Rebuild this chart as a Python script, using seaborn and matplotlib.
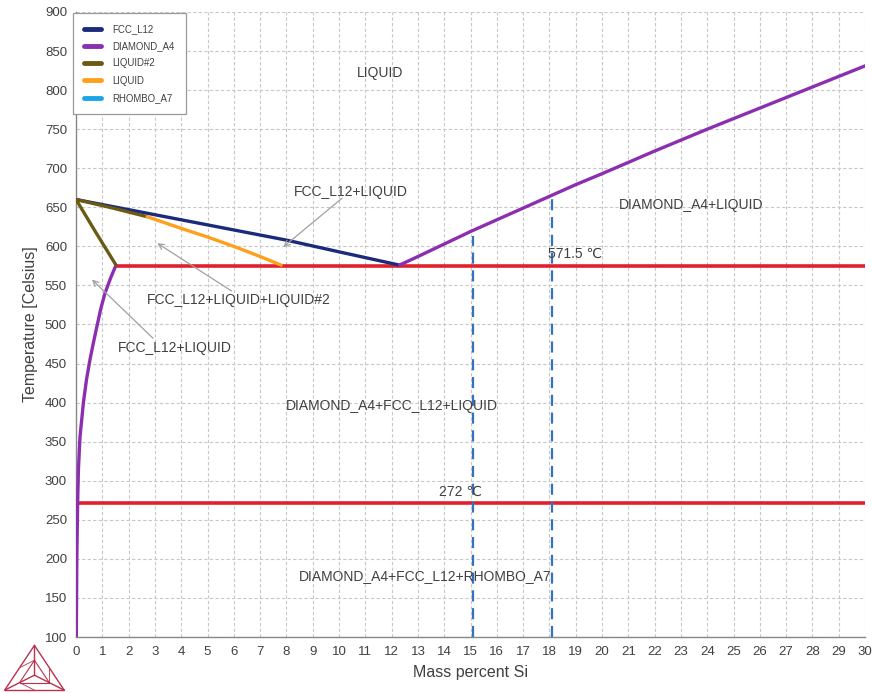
import numpy as np
import pandas as pd
import matplotlib
matplotlib.use("Agg")
import matplotlib.pyplot as plt
import seaborn as sns
from matplotlib.lines import Line2D

# ---- data ----
fcc_x = [0.0, 2.0, 4.0, 6.0, 8.0, 10.0, 12.3]
fcc_t = [660, 647, 634, 621, 608, 593, 576]

diamond_liq_x = [12.3, 13.0, 14.0, 15.0, 16.0, 17.0, 18.0, 19.0, 20.0, 22.0, 24.0, 26.0, 28.0, 30.0]
diamond_liq_t = [576, 587, 603, 619, 634, 649, 664, 679, 693, 722, 750, 777, 804, 831]

diamond_solvus_x = [1.52, 1.32, 1.10, 0.94, 0.79, 0.65, 0.53, 0.40, 0.28, 0.15, 0.09, 0.06, 0.03, 0.01]
diamond_solvus_t = [576, 560, 540, 520, 497, 475, 455, 430, 400, 356, 314, 270, 200, 100]

liquid2_x = [2.7, 1.4, 0.0, 0.75, 1.52]
liquid2_t = [638, 649, 660, 618, 576]

liquid_x = [2.7, 4.0, 5.0, 6.0, 7.0, 7.8]
liquid_t = [638, 623, 612, 600, 587, 576]

eutectic_t = 575
eutectic_x = [1.52, 30.0]
monotectic_t = 272
monotectic_x = [0.0, 30.0]

sections_x = [15.1, 18.1]
sections_top = [613, 664]

labels = [
    ("LIQUID", 11.56, 822),
    ("DIAMOND_A4+LIQUID", 23.4, 653),
    ("571.5 \u2103", 18.97, 590),
    ("272 \u2103", 14.6, 286),
    ("DIAMOND_A4+FCC_L12+LIQUID", 12.0, 396),
    ("DIAMOND_A4+FCC_L12+RHOMBO_A7", 13.27, 178),
]
arrow_labels = [
    ("FCC_L12+LIQUID", 10.46, 670, 7.8, 597, 10.2, 664),
    ("FCC_L12+LIQUID+LIQUID#2", 6.2, 531, 3.0, 606, 6.0, 541),
    ("FCC_L12+LIQUID", 3.76, 470, 0.53, 560, 3.0, 480),
]

colors = {
    "FCC_L12": "#1c2a7c",
    "DIAMOND_A4": "#8b2fb0",
    "LIQUID#2": "#6b5a12",
    "LIQUID": "#ffa01c",
    "RHOMBO_A7": "#1aa6e6",
}
red = "#e0202e"
dash_blue = "#3572bd"
text_col = "#404040"

sns.set_style("white")
plt.rcParams['font.family'] = ['Liberation Sans', 'DejaVu Sans']

fig = plt.figure(figsize=(8.72, 6.93), dpi=100)
ax = fig.add_axes([0.0872, 0.0808, 0.9048, 0.9019])

ax.set_xlim(0, 30)
ax.set_ylim(100, 900)
ax.set_xticks(range(0, 31))
ax.set_yticks(range(100, 901, 50))
ax.grid(True, color="#c8c8c8", linestyle=(0, (3, 2)), linewidth=0.8)
ax.set_axisbelow(True)

lw = 2.4
# red invariant lines
sns.lineplot(x=eutectic_x, y=[eutectic_t] * 2, ax=ax, color=red, lw=2.6, zorder=3,
             estimator=None, sort=False)
sns.lineplot(x=monotectic_x, y=[monotectic_t] * 2, ax=ax, color=red, lw=2.6, zorder=3,
             estimator=None, sort=False)

def curve(xs, ts, c, z=4):
    df = pd.DataFrame({"x": xs, "t": ts})
    sns.lineplot(data=df, x="x", y="t", ax=ax, color=c, lw=lw, sort=False,
                 estimator=None, zorder=z)

curve(fcc_x, fcc_t, colors["FCC_L12"])
curve(diamond_liq_x, diamond_liq_t, colors["DIAMOND_A4"])
curve(diamond_solvus_x, diamond_solvus_t, colors["DIAMOND_A4"])
curve(liquid2_x, liquid2_t, colors["LIQUID#2"], z=5)
curve(liquid_x, liquid_t, colors["LIQUID"], z=5)

for sx, st in zip(sections_x, sections_top):
    sns.lineplot(x=[sx, sx], y=[100, st], ax=ax, color=dash_blue, lw=1.6,
                 linestyle=(0, (5, 3)), zorder=6, estimator=None, sort=False)

for txt, x, y in labels:
    ax.text(x, y, txt, ha="center", va="center", fontsize=10, color=text_col, zorder=7)

for txt, x, y, ax_x, ax_y, tx, ty in arrow_labels:
    ax.text(x, y, txt, ha="center", va="center", fontsize=10, color=text_col, zorder=7)
    ax.annotate("", xy=(ax_x, ax_y), xytext=(tx, ty),
                arrowprops=dict(arrowstyle="->", color="#a0a0a0", lw=0.9), zorder=7)

ax.set_xlabel("Mass percent Si", fontsize=11.5, color=text_col, labelpad=5)
ax.set_ylabel("Temperature [Celsius]", fontsize=11.5, color=text_col, labelpad=5)
ax.tick_params(axis="both", labelsize=9.5, colors=text_col, length=3, direction="out")
ax.tick_params(axis="both", color="#888888")
for s in ["top", "right"]:
    ax.spines[s].set_visible(False)
for s in ["left", "bottom"]:
    ax.spines[s].set_color("#888888")
    ax.spines[s].set_linewidth(1.0)

handles = [Line2D([0], [0], color=c, lw=3.5, solid_capstyle="round") for c in colors.values()]
leg = ax.legend(handles, list(colors.keys()), loc="upper left", fontsize=6.9,
                frameon=True, fancybox=False, edgecolor="#999999", framealpha=1,
                borderpad=1.2, labelspacing=0.75, handlelength=1.7, handletextpad=1.2,
                bbox_to_anchor=(-0.004, 0.999), borderaxespad=0.0)
leg.get_frame().set_linewidth(0.9)
for t in leg.get_texts():
    t.set_color(text_col)

# Thermo-Calc style logo
lax = fig.add_axes([0.002, 0.0, 0.075, 0.075])
lax.set_xlim(-1.1, 1.1)
lax.set_ylim(-0.65, 1.15)
lax.axis("off")
lc = "#b8324e"
A = np.array([0.0, 1.0]); B = np.array([-1.0, -0.55]); C = np.array([1.0, -0.55])
G = (A + B + C) / 3
for P, Q in [(A, B), (B, C), (C, A), (A, G), (B, G), (C, G)]:
    lax.plot([P[0], Q[0]], [P[1], Q[1]], color=lc, lw=1.0)
inner = [G + (V - G) * 0.5 for V in (A, B, C)]
for i in range(3):
    P, Q = inner[i], inner[(i + 1) % 3]
    lax.plot([P[0], Q[0]], [P[1], Q[1]], color=lc, lw=0.8)
mids = [(A + B) / 2, (B + C) / 2, (C + A) / 2]
for i in range(3):
    lax.plot([inner[i][0], mids[i][0]], [inner[i][1], mids[i][1]], color=lc, lw=0.6)

fig.savefig("out.png", dpi=100)
